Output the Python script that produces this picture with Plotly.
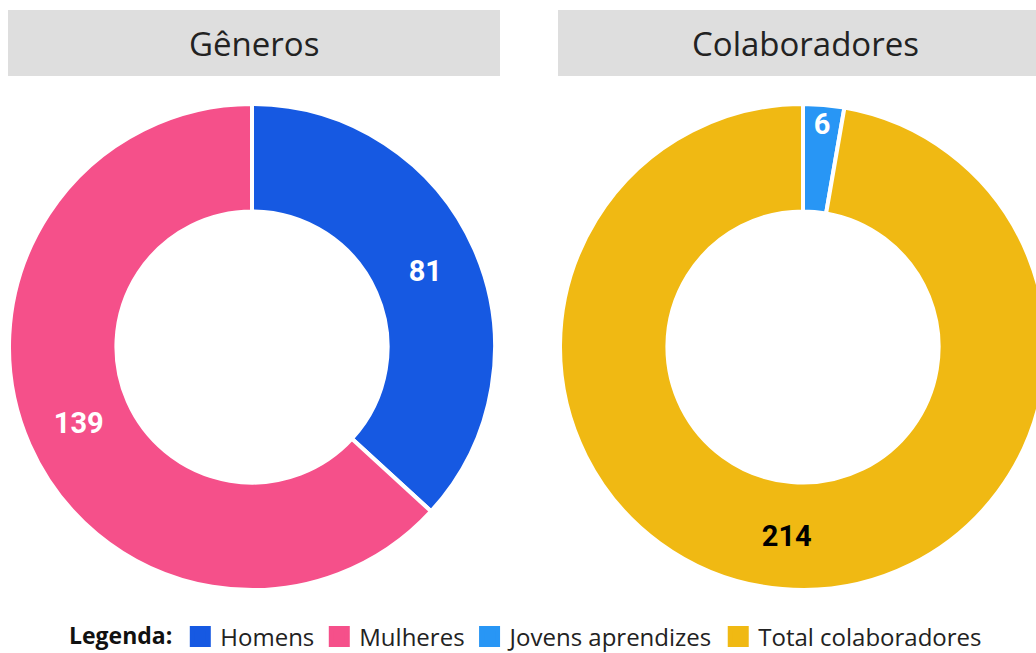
import plotly.graph_objects as go

# Data
gen_labels = ["Homens", "Mulheres"]
gen_values = [81, 139]
gen_colors = ["#1659e2", "#f5508a"]
gen_text_colors = ["white", "white"]

col_labels = ["Jovens aprendizes", "Total colaboradores"]
col_values = [6, 214]
col_colors = ["#2896f5", "#f0b913"]
col_text_colors = ["white", "black"]

titles = ["Gêneros", "Colaboradores"]

legend_labels = gen_labels + col_labels
legend_colors = gen_colors + col_colors

W, H = 1060, 653


def px_x(x):
    return x / W


def px_y(y):
    return 1 - y / H


fig = go.Figure()

common = dict(
    hole=0.558,
    sort=False,
    direction="clockwise",
    rotation=0,
    textinfo="value",
    textposition="inside",
    insidetextorientation="horizontal",
    hoverinfo="label+value",
    showlegend=False,
)

fig.add_trace(go.Pie(
    labels=gen_labels, values=gen_values,
    marker=dict(colors=gen_colors, line=dict(color="white", width=4)),
    textfont=dict(family="Roboto", size=29, color=gen_text_colors, weight="bold"),
    domain=dict(x=[px_x(9), px_x(495)], y=[px_y(590), px_y(104)]),
    **common,
))
fig.add_trace(go.Pie(
    labels=col_labels, values=col_values,
    marker=dict(colors=col_colors, line=dict(color="white", width=4)),
    textfont=dict(family="Roboto", size=29, color=col_text_colors, weight="bold"),
    domain=dict(x=[px_x(560), px_x(1046)], y=[px_y(590), px_y(104)]),
    **common,
))

# Legend entries (dummy traces so the legend swatches can be larger)
for lab, c in zip(legend_labels, legend_colors):
    fig.add_trace(go.Scatter(
        x=[None], y=[None], mode="markers", name=lab,
        marker=dict(symbol="square", size=16, color=c, line=dict(color=c, width=5)),
        hoverinfo="skip",
    ))

# Title boxes
boxes = [(8, 500, 254), (558, 1060, 805)]
for (x0, x1, xc), t in zip(boxes, titles):
    fig.add_shape(type="rect", xref="paper", yref="paper",
                  x0=px_x(x0), x1=px_x(x1), y0=px_y(76), y1=px_y(10),
                  fillcolor="#dedede", line=dict(width=0), layer="below")
    fig.add_annotation(xref="paper", yref="paper", x=px_x(xc),
                       y=px_y(43), text=t, showarrow=False,
                       font=dict(family="Open Sans", size=33, color="#222222", weight=500),
                       xanchor="center", yanchor="middle")

fig.update_layout(
    width=W, height=H,
    margin=dict(l=0, r=0, t=0, b=0, autoexpand=False),
    paper_bgcolor="white",
    plot_bgcolor="white",
    xaxis=dict(visible=False),
    yaxis=dict(visible=False),
    uniformtext=dict(minsize=29, mode="show"),
    showlegend=True,
    legend=dict(
        orientation="h",
        x=px_x(527), xanchor="center",
        y=px_y(637), yanchor="middle",
        font=dict(family="Open Sans", size=24, color="#222222"),
        title=dict(text="<b>Legenda:</b>", side="left",
                   font=dict(family="Open Sans", size=23, color="#111111")),
        itemclick=False,
        itemdoubleclick=False,
        itemsizing="trace",
        traceorder="normal",
    ),
)

fig.write_html(
    "out.html",
    config={"displayModeBar": False},
    post_script="document.body.style.margin='0';document.body.style.overflow='hidden';document.documentElement.style.overflow='hidden';",
)
